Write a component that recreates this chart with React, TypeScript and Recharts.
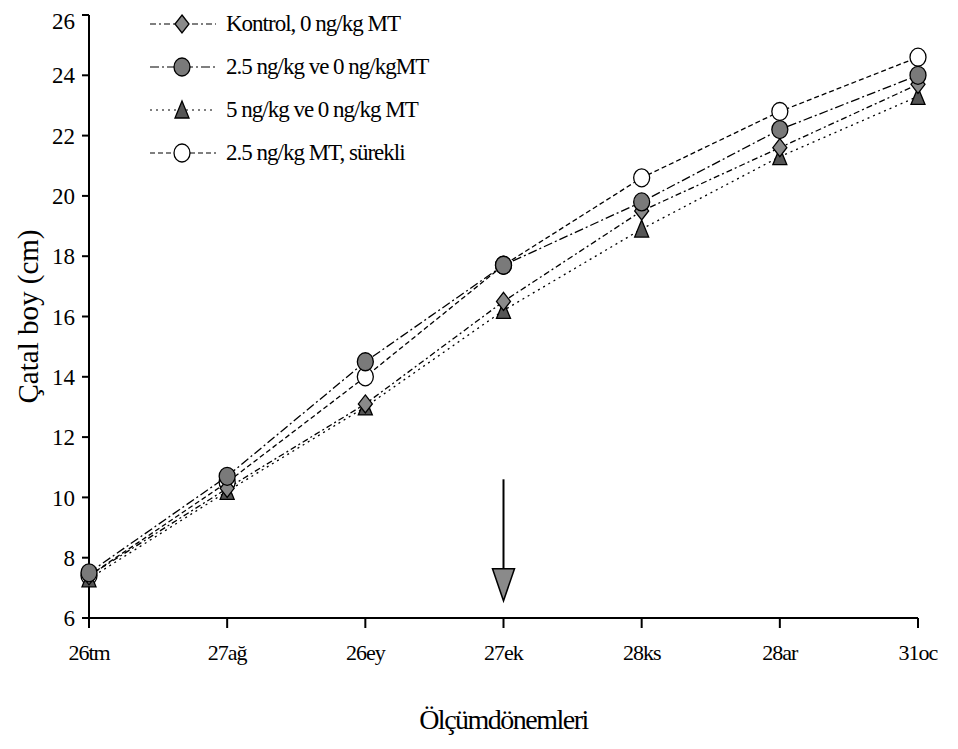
import {
  LineChart,
  Line,
  XAxis,
  YAxis,
  ReferenceLine,
  ReferenceDot,
} from 'recharts';

const periods = ['26tm', '27ağ', '26ey', '27ek', '28ks', '28ar', '31oc'];
const kontrol = [7.4, 10.3, 13.1, 16.5, 19.5, 21.6, 23.7];
const mt25 = [7.5, 10.7, 14.5, 17.7, 19.8, 22.2, 24.0];
const mt5 = [7.3, 10.2, 13.0, 16.2, 18.9, 21.3, 23.3];
const mt25s = [7.4, 10.5, 14.0, 17.7, 20.6, 22.8, 24.6];
const yTicks = [6, 8, 10, 12, 14, 16, 18, 20, 22, 24, 26];

const seriesNames = {
  kontrol: 'Kontrol, 0 ng/kg MT',
  mt25: '2.5 ng/kg ve 0 ng/kgMT',
  mt5: '5 ng/kg ve 0 ng/kg MT',
  mt25s: '2.5 ng/kg MT, sürekli',
};

const chartData = periods.map((p, i) => ({
  period: p,
  kontrol: kontrol[i],
  mt25: mt25[i],
  mt5: mt5[i],
  mt25s: mt25s[i],
}));

const FONT = '"Liberation Serif", "Times New Roman", serif';

const dashes: Record<string, string> = {
  kontrol: '6 3 2 3',
  mt25: '9 3 2 3',
  mt5: '2 4',
  mt25s: '5 3',
};

const Marker = ({ kind, cx, cy }: { kind: string; cx: number; cy: number }) => {
  if (kind === 'kontrol') {
    return (
      <polygon
        points={`${cx},${cy - 9} ${cx + 7},${cy} ${cx},${cy + 9} ${cx - 7},${cy}`}
        fill="#8a8a8a"
        stroke="#000"
        strokeWidth={1.3}
      />
    );
  }
  if (kind === 'mt25') {
    return <ellipse cx={cx} cy={cy} rx={8} ry={9} fill="#7a7a7a" stroke="#000" strokeWidth={1.3} />;
  }
  if (kind === 'mt5') {
    return (
      <polygon
        points={`${cx},${cy - 9} ${cx + 7},${cy + 8} ${cx - 7},${cy + 8}`}
        fill="#555"
        stroke="#000"
        strokeWidth={1.3}
      />
    );
  }
  return <ellipse cx={cx} cy={cy} rx={8} ry={9} fill="#fff" stroke="#000" strokeWidth={1.3} />;
};

const dotFor = (kind: string) => (props: any) => {
  const { cx, cy, index } = props;
  if (cx == null || cy == null) return <g key={`${kind}-${index}`} />;
  return (
    <g key={`${kind}-${index}`}>
      <Marker kind={kind} cx={cx} cy={cy} />
    </g>
  );
};

const legendOrder = ['kontrol', 'mt25', 'mt5', 'mt25s'];

// legend drawn over the plot, top-left like in the original figure
const LegendBox = () => (
  <div
    style={{
      position: 'absolute',
      left: 138,
      top: -6,
      fontFamily: FONT,
      fontSize: 23,
      color: '#000',
    }}
  >
    {legendOrder.map((k) => (
      <div key={k} style={{ display: 'flex', alignItems: 'center', height: 43 }}>
        <svg width={74} height={30} style={{ marginRight: 6 }}>
          <line x1={4} y1={15} x2={70} y2={15} stroke="#000" strokeWidth={1.2} strokeDasharray={dashes[k]} />
          <Marker kind={k} cx={36} cy={15} />
        </svg>
        <span style={{ letterSpacing: -1 }}>{seriesNames[k as keyof typeof seriesNames]}</span>
      </div>
    ))}
  </div>
);

const arrowHead = (props: any) => {
  const { cx, cy } = props;
  return (
    <polygon
      points={`${cx - 11},${cy - 16} ${cx + 11},${cy - 16} ${cx},${cy + 16}`}
      fill="#8a8a8a"
      stroke="#000"
      strokeWidth={1.5}
    />
  );
};

const App = () => {
  return (
    <div style={{ position: 'relative', width: 942, height: 733, background: '#fff' }}>
      <LineChart
        width={942}
        height={733}
        data={chartData}
        margin={{ top: 7, right: 32, left: 0, bottom: 0 }}
      >
        <XAxis
          dataKey="period"
          height={123}
          tickSize={10}
          tickMargin={16}
          stroke="#000"
          strokeWidth={2}
          tick={{ fill: '#000', fontFamily: FONT, fontSize: 22, letterSpacing: -1 }}
          label={{
            value: 'Ölçümdönemleri',
            position: 'insideBottom',
            offset: 12,
            style: { fill: '#000', fontFamily: FONT, fontSize: 28, letterSpacing: -1.5 },
          }}
        />
        <YAxis
          domain={[6, 26]}
          ticks={yTicks}
          width={81}
          tickSize={7}
          tickMargin={7}
          stroke="#000"
          strokeWidth={2}
          tick={{ fill: '#000', fontFamily: FONT, fontSize: 23 }}
          label={{
            value: 'Çatal boy (cm)',
            angle: -90,
            position: 'insideLeft',
            offset: 20,
            style: { fill: '#000', fontFamily: FONT, fontSize: 29, textAnchor: 'middle' },
          }}
        />
        <ReferenceLine
          segment={[
            { x: '27ek', y: 10.6 },
            { x: '27ek', y: 7.6 },
          ]}
          stroke="#000"
          strokeWidth={2}
        />
        <ReferenceDot x="27ek" y={7.1} r={10} shape={arrowHead} />
        <Line
          dataKey="mt25s"
          name={seriesNames.mt25s}
          stroke="#000"
          strokeWidth={1.3}
          strokeDasharray={dashes.mt25s}
          dot={dotFor('mt25s')}
          isAnimationActive={false}
        />
        <Line
          dataKey="mt5"
          name={seriesNames.mt5}
          stroke="#000"
          strokeWidth={1.3}
          strokeDasharray={dashes.mt5}
          dot={dotFor('mt5')}
          isAnimationActive={false}
        />
        <Line
          dataKey="kontrol"
          name={seriesNames.kontrol}
          stroke="#000"
          strokeWidth={1.3}
          strokeDasharray={dashes.kontrol}
          dot={dotFor('kontrol')}
          isAnimationActive={false}
        />
        <Line
          dataKey="mt25"
          name={seriesNames.mt25}
          stroke="#000"
          strokeWidth={1.3}
          strokeDasharray={dashes.mt25}
          dot={dotFor('mt25')}
          isAnimationActive={false}
        />
      </LineChart>
      <LegendBox />
    </div>
  );
};

export default App;
